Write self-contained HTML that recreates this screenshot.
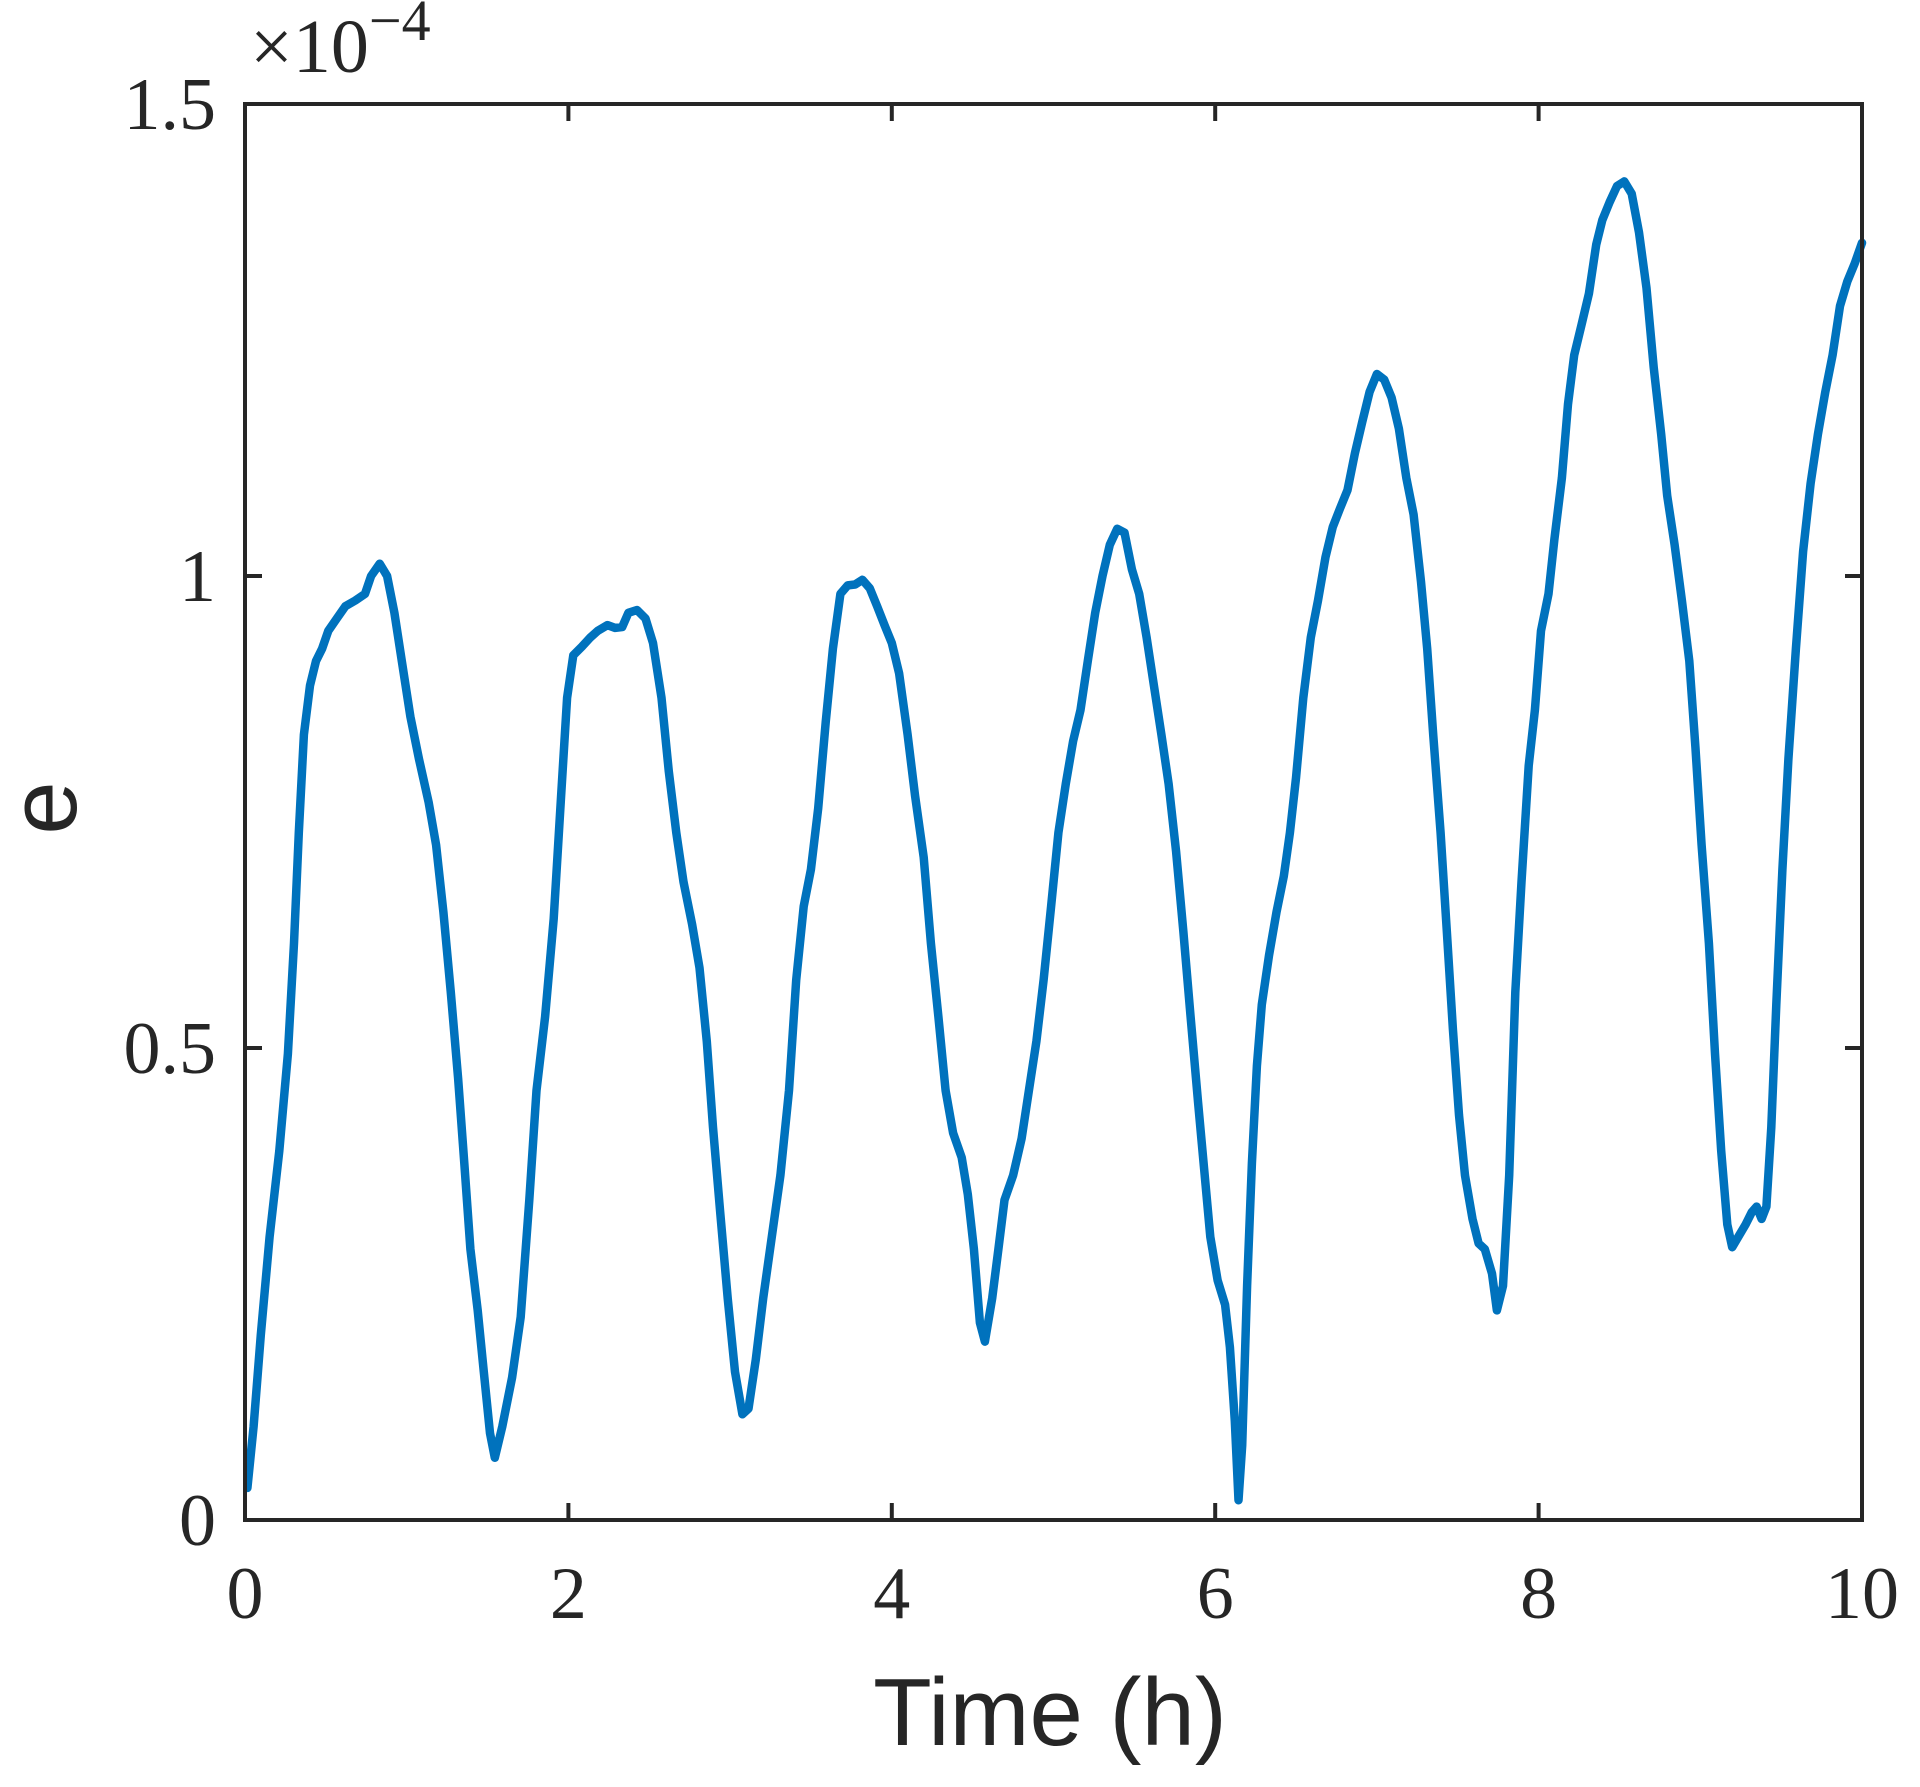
<!DOCTYPE html>
<html><head><meta charset="utf-8"><style>
html,body{margin:0;padding:0;background:#fff;}
svg{display:block;}
</style></head><body>
<svg id="chart" width="1920" height="1787" viewBox="0 0 1920 1787" xmlns="http://www.w3.org/2000/svg">
<rect width="1920" height="1787" fill="#fff"/>
<g id="ticks"></g>
<path id="series" fill="none" stroke="#0072BD" stroke-width="8.5" stroke-linejoin="round" stroke-linecap="round"/>
<rect x="245" y="104" width="1617" height="1416" fill="none" stroke="#262626" stroke-width="4"/>
<g id="labels" font-family="'Liberation Serif', serif" font-size="74" fill="#262626"></g>
<text x="250" y="72" font-family="'Liberation Serif', serif" font-size="76" fill="#262626">×10<tspan font-size="58" dy="-32">−4</tspan></text>
<text x="1050" y="1745" text-anchor="middle" font-family="'Liberation Sans', sans-serif" font-size="96" fill="#262626">Time (h)</text>
<text transform="translate(76,808) rotate(-90)" text-anchor="middle" font-family="'Liberation Sans', sans-serif" font-size="96" fill="#262626">e</text>
</svg>
<script>
const xTicks=[0,2,4,6,8,10];
const yTicks=[0,0.5,1,1.5];
const yTickLabels=["0","0.5","1","1.5"];
const times=[0.015,0.053,0.098,0.152,0.212,0.265,0.303,0.333,0.364,0.402,0.439,0.477,0.515,0.568,0.621,0.682,0.742,0.780,0.833,0.879,0.924,0.970,1.023,1.076,1.136,1.182,1.227,1.273,1.318,1.356,1.394,1.439,1.477,1.515,1.545,1.591,1.652,1.705,1.758,1.803,1.856,1.909,1.955,1.992,2.030,2.083,2.136,2.182,2.242,2.288,2.333,2.371,2.424,2.477,2.523,2.576,2.621,2.667,2.712,2.765,2.811,2.856,2.894,2.939,2.985,3.030,3.076,3.114,3.159,3.205,3.258,3.311,3.364,3.409,3.455,3.500,3.545,3.591,3.636,3.682,3.727,3.773,3.818,3.864,3.909,3.955,4.000,4.045,4.098,4.144,4.197,4.242,4.288,4.333,4.379,4.432,4.470,4.508,4.545,4.576,4.621,4.659,4.697,4.750,4.803,4.848,4.894,4.939,4.985,5.030,5.076,5.121,5.167,5.212,5.258,5.303,5.348,5.394,5.439,5.485,5.530,5.576,5.621,5.667,5.712,5.758,5.803,5.848,5.894,5.932,5.970,6.015,6.061,6.091,6.121,6.144,6.167,6.197,6.227,6.258,6.288,6.333,6.379,6.424,6.462,6.500,6.545,6.591,6.636,6.682,6.727,6.773,6.818,6.864,6.909,6.955,7.000,7.045,7.091,7.136,7.182,7.227,7.273,7.311,7.348,7.394,7.432,7.470,7.508,7.545,7.591,7.629,7.667,7.712,7.742,7.780,7.818,7.856,7.894,7.939,7.977,8.015,8.061,8.098,8.144,8.182,8.220,8.265,8.311,8.356,8.394,8.439,8.485,8.530,8.576,8.621,8.667,8.712,8.758,8.795,8.841,8.886,8.932,8.970,9.008,9.053,9.091,9.129,9.167,9.197,9.235,9.280,9.318,9.348,9.379,9.409,9.439,9.470,9.508,9.545,9.591,9.636,9.682,9.727,9.773,9.818,9.864,9.909,9.955,10.000];
const errors=[0.034,0.099,0.196,0.300,0.391,0.494,0.611,0.728,0.832,0.884,0.910,0.923,0.942,0.955,0.968,0.974,0.981,1.000,1.013,1.000,0.961,0.910,0.851,0.806,0.760,0.715,0.644,0.559,0.468,0.378,0.287,0.222,0.157,0.092,0.066,0.099,0.151,0.215,0.339,0.455,0.533,0.637,0.767,0.871,0.916,0.925,0.935,0.942,0.948,0.945,0.946,0.961,0.964,0.955,0.929,0.871,0.793,0.728,0.676,0.631,0.585,0.507,0.416,0.326,0.235,0.157,0.112,0.118,0.170,0.235,0.300,0.365,0.455,0.572,0.650,0.689,0.754,0.845,0.923,0.981,0.990,0.991,0.996,0.987,0.968,0.948,0.929,0.897,0.832,0.767,0.702,0.611,0.533,0.455,0.410,0.384,0.345,0.287,0.209,0.189,0.235,0.287,0.339,0.365,0.404,0.455,0.507,0.572,0.650,0.728,0.780,0.825,0.858,0.910,0.961,1.000,1.033,1.050,1.046,1.007,0.981,0.935,0.884,0.832,0.780,0.708,0.624,0.533,0.442,0.371,0.300,0.254,0.228,0.183,0.105,0.021,0.079,0.248,0.378,0.481,0.546,0.598,0.644,0.682,0.728,0.786,0.871,0.935,0.974,1.020,1.052,1.072,1.091,1.130,1.163,1.195,1.214,1.208,1.189,1.156,1.104,1.065,0.994,0.923,0.832,0.728,0.624,0.520,0.429,0.365,0.319,0.293,0.287,0.261,0.222,0.248,0.365,0.559,0.676,0.799,0.858,0.942,0.981,1.039,1.104,1.182,1.234,1.266,1.299,1.351,1.377,1.396,1.413,1.418,1.405,1.364,1.305,1.221,1.150,1.085,1.033,0.974,0.910,0.819,0.715,0.611,0.494,0.391,0.313,0.289,0.300,0.313,0.326,0.332,0.319,0.332,0.416,0.546,0.689,0.806,0.923,1.026,1.098,1.150,1.195,1.234,1.286,1.312,1.331,1.353];

const L=245,R=1862,T=104,B=1520;
const xScale=t=>L+(t-0)/(10-0)*(R-L);
const yScale=v=>B-(v-0)/(1.5-0)*(B-T);
const NS='http://www.w3.org/2000/svg';
let d='';
for(let i=0;i<times.length;i++){d+=(i?'L':'M')+xScale(times[i]).toFixed(1)+','+yScale(errors[i]).toFixed(1);}
document.getElementById('series').setAttribute('d',d);
const tg=document.getElementById('ticks'), lg=document.getElementById('labels');
function line(x1,y1,x2,y2,name){const l=document.createElementNS(NS,'line');
l.setAttribute('x1',x1);l.setAttribute('y1',y1);l.setAttribute('x2',x2);l.setAttribute('y2',y2);
l.setAttribute('stroke','#262626');l.setAttribute('stroke-width','4');


tg.appendChild(l);}
xTicks.forEach(v=>{const x=xScale(v);line(x,B,x,B-17,'x-tick');line(x,T,x,T+17,'x-tick-top');
const t=document.createElementNS(NS,'text');t.setAttribute('x',x);t.setAttribute('y',1618);t.setAttribute('text-anchor','middle');t.textContent=String(v);


lg.appendChild(t);});
yTicks.forEach((v,i)=>{const y=yScale(v);line(L,y,L+17,y,'y-tick');line(R,y,R-17,y,'y-tick-right');
const t=document.createElementNS(NS,'text');t.setAttribute('x',216);t.setAttribute('y',y+25);t.setAttribute('text-anchor','end');t.textContent=yTickLabels[i];


lg.appendChild(t);});
</script>
</body></html>
